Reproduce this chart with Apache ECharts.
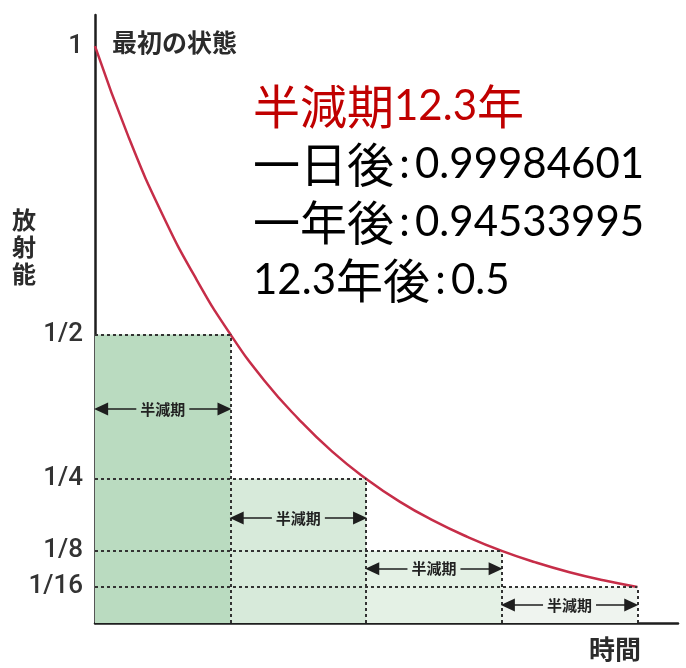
<!DOCTYPE html>
<html lang="ja">
<head>
  <meta charset="UTF-8">
  <title>半減期</title>
  <script src="https://cdn.jsdelivr.net/npm/echarts@6/dist/echarts.min.js"></script>
  <style>
    html, body { margin: 0; padding: 0; background: #fff; }
  </style>
</head>
<body>
  <div id="main" style="width: 686px;height:668px;"></div>

  <script type="text/javascript">
    // radioactivity, time in half-lives
    const decayTime = [0, 0.25, 0.5, 0.75, 1, 1.25, 1.5, 1.75, 2, 2.25, 2.5, 2.75, 3, 3.25, 3.5, 3.75, 4];
    const decayLevel = [1, 0.841, 0.707, 0.595, 0.5, 0.42, 0.354, 0.297, 0.25, 0.21, 0.177, 0.149, 0.125, 0.105, 0.088, 0.074, 0.0625];

    // y axis ticks
    const yTickValues = [1, 0.5, 0.25, 0.125, 0.0625];
    const yTickLabels = ['1', '1/2', '1/4', '1/8', '1/16'];

    // each half-life step: end time and remaining level
    const stepTime = [1, 2, 3, 4];
    const stepLevel = [0.5, 0.25, 0.125, 0.0625];
    // height of the "半減期" arrow in each column
    const arrowLevel = [0.371, 0.182, 0.094, 0.031];

    const areaColors = ['#badbc0', '#d7eada', '#e4f1e5', '#eff4ef'];

    let myChart = echarts.init(document.getElementById('main'));

    // shaded blocks under each step
    let areas = stepTime.map((t, i) => [
      { coord: [t - 1, stepLevel[i]], itemStyle: { color: areaColors[i] } },
      { coord: [t, 0] }
    ]);

    // dotted guide lines
    let guides = [];
    stepTime.forEach((t, i) => {
      guides.push([{ coord: [0, stepLevel[i]] }, { coord: [t, stepLevel[i]] }]);
      guides.push([{ coord: [t, 0] }, { coord: [t, stepLevel[i]] }]);
    });

    // double-headed arrows
    let arrows = stepTime.map((t, i) => [
      { coord: [t - 0.955, arrowLevel[i]], label: { backgroundColor: areaColors[i] } },
      { coord: [t - 0.045, arrowLevel[i]] }
    ]);

    let cjk = 'Noto Sans CJK JP';

    let options = {
      animation: false,
      grid: { left: 95, top: 15, right: 8, bottom: 45 },
      xAxis: {
        type: 'value',
        min: 0,
        max: 4.3,
        axisLine: { lineStyle: { color: '#1e1e1e', width: 2.5 } },
        axisTick: { show: false },
        axisLabel: { show: false },
        splitLine: { show: false }
      },
      yAxis: {
        type: 'value',
        min: 0,
        max: 1.054,
        axisLine: { show: true, lineStyle: { color: '#1e1e1e', width: 2.5 } },
        axisTick: { show: false },
        splitLine: { show: false },
        axisLabel: {
          customValues: yTickValues,
          formatter: (v) => yTickLabels[yTickValues.indexOf(v)],
          margin: 12,
          color: '#333',
          fontSize: 26,
          fontWeight: 500,
          fontFamily: 'Roboto'
        }
      },
      graphic: [
        {
          type: 'text', left: 112, top: 30,
          style: { text: '最初の状態', font: 'bold 25px "Noto Sans CJK JP"', fill: '#2b2b2b' }
        },
        {
          type: 'text', left: 12, top: 206,
          style: { text: '放\n射\n能', font: 'bold 24px "Noto Sans CJK JP"', lineHeight: 27, fill: '#2b2b2b' }
        },
        {
          type: 'text', left: 589, top: 636,
          style: { text: '時間', font: 'bold 26px "Noto Sans CJK JP"', fill: '#2b2b2b' }
        },
        {
          type: 'text', left: 253, top: 83,
          style: {
            text: '{rk|半減期}{rn|12.3}{rk|年}\n{k|一日後}{n|\u2009:\u20090.99984601}\n{k|一年後}{n|\u2009:\u20090.94533995}\n{n|12.3}{k|年後}{n|\u2009:\u20090.5}',
            rich: {
              rk: { fill: '#c00000', fontFamily: cjk, fontSize: 47, lineHeight: 58 },
              rn: { fill: '#c00000', fontFamily: 'Lato', fontSize: 42, lineHeight: 58 },
              k: { fill: '#000', fontFamily: cjk, fontSize: 47, lineHeight: 58 },
              n: { fill: '#000', fontFamily: 'Lato', fontSize: 42, lineHeight: 58 }
            }
          }
        }
      ],
      series: [
        {
          name: 'areas',
          type: 'line',
          data: [],
          z: 1,
          markArea: { silent: true, data: areas }
        },
        {
          name: 'guides',
          type: 'line',
          data: [],
          z: 2,
          markLine: {
            silent: true,
            symbol: 'none',
            label: { show: false },
            lineStyle: { type: [3, 3], color: '#333', width: 2 },
            data: guides
          }
        },
        {
          name: 'arrows',
          type: 'line',
          data: [],
          z: 3,
          markLine: {
            silent: true,
            symbol: ['triangle', 'triangle'],
            symbolSize: [13, 14],
            lineStyle: { type: 'solid', color: '#1e1e1e', width: 1.5 },
            label: {
              show: true,
              position: 'insideMiddle',
              formatter: '半減期',
              color: '#222',
              fontSize: 15,
              fontWeight: 'bold',
              fontFamily: cjk,
              padding: [0, 4]
            },
            data: arrows
          }
        },
        {
          name: 'decay',
          type: 'line',
          z: 4,
          smooth: true,
          showSymbol: false,
          lineStyle: { color: '#c62d48', width: 2.5 },
          data: decayTime.map((t, i) => [t, decayLevel[i]])
        }
      ]
    };

    myChart.setOption(options);
  </script>
</body>
</html>
